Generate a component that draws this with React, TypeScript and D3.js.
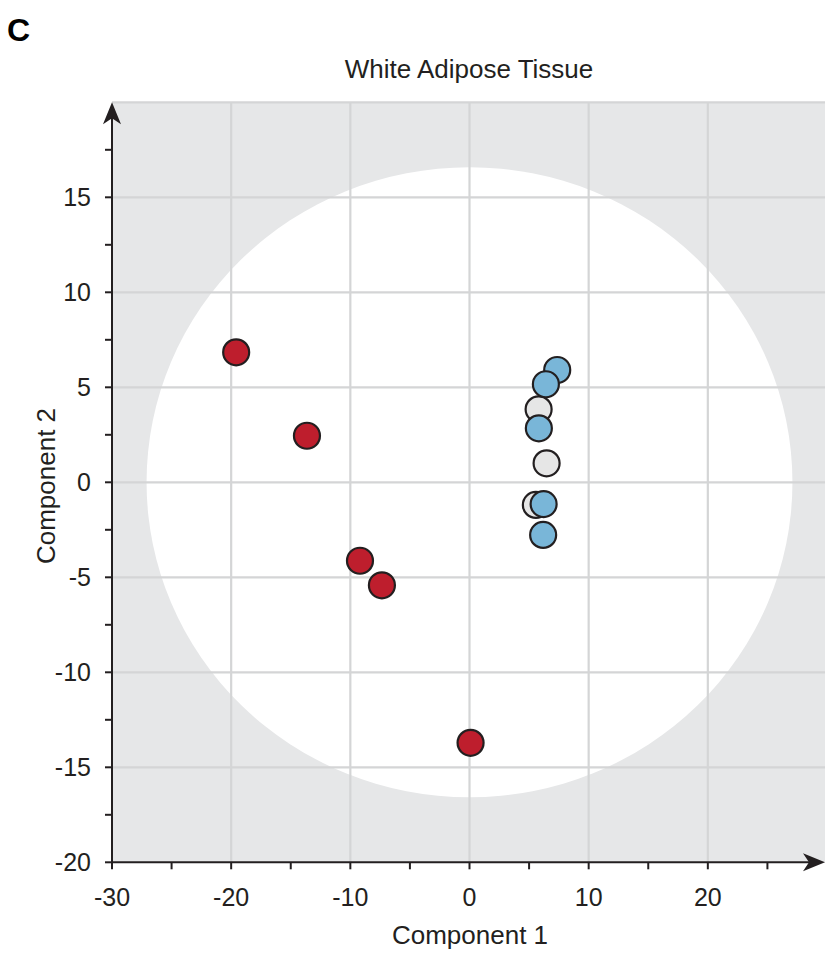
import React from "react";
import * as d3 from "d3";

// ---- data ----
const redX = [-19.58, -13.64, -9.19, -7.35, 0.09];
const redY = [6.84, 2.45, -4.13, -5.42, -13.71];
const grayX = [5.8, 6.47, 5.57];
const grayY = [3.84, 1.0, -1.19];
const blueX = [7.36, 6.41, 5.82, 6.22, 6.18];
const blueY = [5.91, 5.16, 2.84, -1.15, -2.77];
const xTicks = [-30, -20, -10, 0, 10, 20];
const yTicks = [-20, -15, -10, -5, 0, 5, 10, 15];
const xMinor = [-25, -15, -5, 5, 15, 25];
const yMinor = [-17.5, -12.5, -7.5, -2.5, 2.5, 7.5, 12.5, 17.5];
const ellipseR = [27.1, 16.58];

const W = 825;
const H = 953;
const FONT = "'Liberation Sans', Arial, Helvetica, sans-serif";

export default function App() {
  const x = d3.scaleLinear().domain([-30, 30]).range([112, 827]);
  const y = d3.scaleLinear().domain([-20, 20]).range([862.3, 102.3]);
  const gridColor = "#d4d5d6";
  const axisColor = "#231f20";
  const r = 13;
  const x0 = x(-30);
  const y0 = y(-20);
  const yTop = y(20);

  const pts = (xs: number[], ys: number[]) => xs.map((v, i) => ({ x: v, y: ys[i] }));

  return (
    <svg
      width={W}
      height={H}
      style={{ position: "absolute", left: 0, top: 0, background: "#fff" }}
      fontFamily={FONT}
    >
      <text x={7} y={41} fontSize={32} fontWeight="bold" fill="#000">C</text>
      <text x={469} y={78} fontSize={26} textAnchor="middle" fill="#231f20">White Adipose Tissue</text>

      {/* background */}
      <rect x={x0} y={yTop} width={W - x0} height={y0 - yTop} fill="#e6e7e8" />
      <ellipse
        cx={x(0)}
        cy={y(0)}
        rx={x(ellipseR[0]) - x(0)}
        ry={y(0) - y(ellipseR[1])}
        fill="#ffffff"
      />

      {/* grid */}
      {[...xTicks.slice(1), 30].map((t) => (
        <line key={"gx" + t} x1={x(t)} x2={x(t)} y1={yTop} y2={y0} stroke={gridColor} strokeWidth={2.2} />
      ))}
      {[...yTicks.slice(1), 20].map((t) => (
        <line key={"gy" + t} x1={x0} x2={W} y1={y(t)} y2={y(t)} stroke={gridColor} strokeWidth={2.2} />
      ))}

      {/* points */}
      {pts(grayX, grayY).map((p, i) => (
        <circle key={"g" + i} cx={x(p.x)} cy={y(p.y)} r={r} fill="#e6e6e6" stroke={axisColor} strokeWidth={2.2} />
      ))}
      {pts(blueX, blueY).map((p, i) => (
        <circle key={"b" + i} cx={x(p.x)} cy={y(p.y)} r={r} fill="#79b6d8" stroke={axisColor} strokeWidth={2.2} />
      ))}
      {pts(redX, redY).map((p, i) => (
        <circle key={"r" + i} cx={x(p.x)} cy={y(p.y)} r={r} fill="#be1e2d" stroke={axisColor} strokeWidth={2.2} />
      ))}

      {/* axes */}
      <line x1={x0} x2={x0} y1={y0} y2={yTop + 12} stroke={axisColor} strokeWidth={2} />
      <line x1={x0} x2={W - 12} y1={y0} y2={y0} stroke={axisColor} strokeWidth={2} />
      <path
        d={`M${x0},${yTop} L${x0 + 9},${yTop + 22} L${x0},${yTop + 16} L${x0 - 9},${yTop + 22} Z`}
        fill={axisColor}
      />
      <path
        d={`M${W},${y0} L${W - 22},${y0 - 9} L${W - 16},${y0} L${W - 22},${y0 + 9} Z`}
        fill={axisColor}
      />

      {[...xTicks, ...xMinor].map((t) => (
        <line key={"tx" + t} x1={x(t)} x2={x(t)} y1={y0} y2={y0 + 7} stroke={axisColor} strokeWidth={2} />
      ))}
      {[...yTicks, ...yMinor].map((t) => (
        <line key={"ty" + t} x1={x0 - 7} x2={x0} y1={y(t)} y2={y(t)} stroke={axisColor} strokeWidth={2} />
      ))}

      {xTicks.map((t) => (
        <text key={"lx" + t} x={x(t)} y={906} fontSize={25} textAnchor="middle" fill="#231f20">
          {t}
        </text>
      ))}
      {yTicks.map((t) => (
        <text key={"ly" + t} x={91} y={y(t) + 9} fontSize={25} textAnchor="end" fill="#231f20">
          {t}
        </text>
      ))}

      <text x={470} y={944} fontSize={26} textAnchor="middle" fill="#231f20">Component 1</text>
      <text
        transform={`translate(55,486) rotate(-90)`}
        fontSize={26}
        textAnchor="middle"
        fill="#231f20"
      >
        Component 2
      </text>
    </svg>
  );
}
